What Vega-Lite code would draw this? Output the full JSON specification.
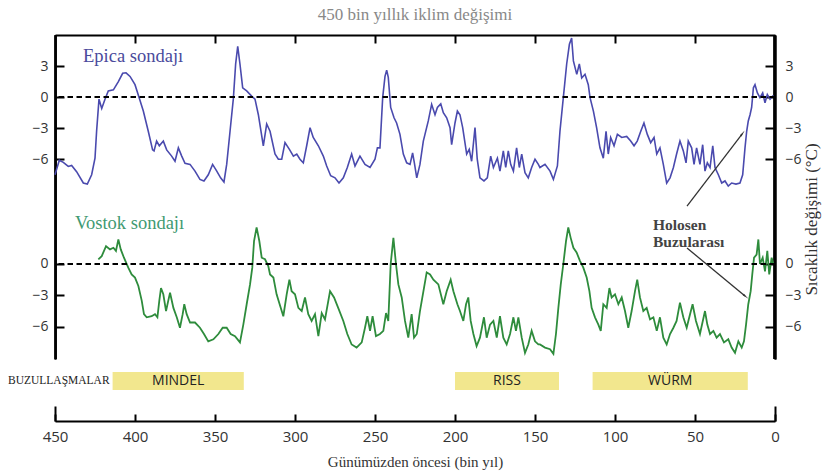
{
"$schema": "https://vega.github.io/schema/vega-lite/v6.json",
"padding": {"left": 8, "top": 5, "right": 5, "bottom": 5},
"width": 720, "height": 386,
"title": {"text": "450 bin yıllık iklim değişimi", "font": "Liberation Serif", "fontSize": 17, "fontWeight": "normal", "color": "#888888", "anchor": "middle", "offset": 10},
"config": {"view": {"stroke": null}, "axis": {"grid": false, "domainColor": "#000", "tickColor": "#000", "domainWidth": 2, "tickWidth": 2, "labelColor": "#333", "labelFont": "Open Sans", "labelFontSize": 14, "labelFlush": false}},
"resolve": {"scale": {"x": "independent", "y": "independent"}, "axis": {"x": "independent", "y": "independent"}},
"datasets": {
"epica": [
{"age":450,"t":-7.5},{"age":447.3,"t":-6.1},{"age":444.8,"t":-6.3},{"age":441.7,"t":-6.7},{"age":439.6,"t":-6.6},{"age":436.5,"t":-7.2},{"age":432.3,"t":-8.3},{"age":429.8,"t":-8.4},{"age":427.1,"t":-7.5},{"age":425,"t":-5.9},{"age":424,"t":-3.3},{"age":422.5,"t":-0.2},{"age":420.8,"t":-1.1},{"age":418.75,"t":-0.2},{"age":416.7,"t":0.6},{"age":413.5,"t":0.7},{"age":410.4,"t":1.5},{"age":407.7,"t":2.3},{"age":405.6,"t":2.35},{"age":403.1,"t":2.0},{"age":400,"t":1.2},{"age":397.3,"t":-0.1},{"age":394.8,"t":-1.35},{"age":391.7,"t":-3.3},{"age":389,"t":-5.1},{"age":388.1,"t":-5.2},{"age":386.5,"t":-4.25},{"age":384.8,"t":-4.7},{"age":382.3,"t":-4.25},{"age":380.2,"t":-5.1},{"age":377.1,"t":-5.7},{"age":375,"t":-6.2},{"age":372.9,"t":-4.9},{"age":370.8,"t":-5.7},{"age":368.75,"t":-6.4},{"age":365.6,"t":-6.5},{"age":362.5,"t":-7.15},{"age":359.4,"t":-7.95},{"age":356.9,"t":-8.1},{"age":354.2,"t":-7.5},{"age":351.5,"t":-6.5},{"age":348.9,"t":-7.15},{"age":346.5,"t":-7.8},{"age":344.4,"t":-8.2},{"age":342.7,"t":-6.5},{"age":340.6,"t":-3.3},{"age":338.5,"t":-0.1},{"age":337.1,"t":3.2},{"age":335.8,"t":4.9},{"age":334.4,"t":3.2},{"age":332.7,"t":0.9},{"age":330.2,"t":0.6},{"age":327.1,"t":0.1},{"age":325,"t":-0.2},{"age":322.9,"t":-1.7},{"age":319.8,"t":-4.7},{"age":317.7,"t":-2.6},{"age":315.6,"t":-3.3},{"age":312.5,"t":-5.5},{"age":310.4,"t":-6.0},{"age":308.3,"t":-6.0},{"age":306.25,"t":-4.4},{"age":303.5,"t":-5.05},{"age":301,"t":-5.7},{"age":298.9,"t":-5.5},{"age":296.9,"t":-6.0},{"age":294.8,"t":-6.35},{"age":292.7,"t":-4.7},{"age":290.6,"t":-2.95},{"age":288.6,"t":-3.9},{"age":285.4,"t":-4.7},{"age":282.3,"t":-5.7},{"age":280.2,"t":-6.65},{"age":277.7,"t":-7.6},{"age":275,"t":-7.8},{"age":272.5,"t":-8.3},{"age":269.8,"t":-7.8},{"age":267.3,"t":-6.8},{"age":264.6,"t":-5.5},{"age":262.5,"t":-6.65},{"age":259.4,"t":-5.7},{"age":256.25,"t":-6.5},{"age":253.1,"t":-6.8},{"age":250,"t":-6.0},{"age":248.5,"t":-4.9},{"age":246.9,"t":-4.9},{"age":245.2,"t":-0.05},{"age":243.75,"t":2.0},{"age":242.7,"t":2.6},{"age":241.7,"t":1.9},{"age":240.2,"t":-1.0},{"age":238.1,"t":-2.0},{"age":236.5,"t":-2.5},{"age":234.4,"t":-3.6},{"age":232.3,"t":-5.5},{"age":230.2,"t":-6.35},{"age":228.1,"t":-6.5},{"age":226.5,"t":-5.4},{"age":225.4,"t":-6.35},{"age":223.9,"t":-7.8},{"age":221.9,"t":-6.5},{"age":219.8,"t":-4.25},{"age":216.7,"t":-2.3},{"age":214.6,"t":-0.7},{"age":212.5,"t":-1.7},{"age":211,"t":-1.0},{"age":208.9,"t":-0.65},{"age":207.3,"t":-1.5},{"age":205.2,"t":-2.0},{"age":203.1,"t":-2.95},{"age":202.1,"t":-4.6},{"age":200,"t":-2.5},{"age":198.5,"t":-1.35},{"age":196.9,"t":-1.7},{"age":195.2,"t":-2.95},{"age":192.7,"t":-5.5},{"age":191.1,"t":-5.05},{"age":189.6,"t":-6.2},{"age":187.5,"t":-2.95},{"age":186.1,"t":-6.0},{"age":184.4,"t":-7.8},{"age":181.9,"t":-8.1},{"age":179.8,"t":-7.8},{"age":177.7,"t":-5.7},{"age":176,"t":-6.8},{"age":173.5,"t":-5.9},{"age":171.9,"t":-7.15},{"age":169.8,"t":-5.2},{"age":168.3,"t":-6.8},{"age":166.7,"t":-5.2},{"age":165.2,"t":-6.5},{"age":163.5,"t":-7.15},{"age":161.5,"t":-4.9},{"age":159.8,"t":-6.8},{"age":158.3,"t":-5.5},{"age":156.25,"t":-7.3},{"age":154.2,"t":-7.8},{"age":152.1,"t":-6.8},{"age":150,"t":-6.0},{"age":147.9,"t":-6.5},{"age":146.9,"t":-6.8},{"age":143.75,"t":-6.5},{"age":140.6,"t":-7.15},{"age":138.5,"t":-7.95},{"age":136,"t":-6.65},{"age":134.4,"t":-3.3},{"age":132.3,"t":-0.05},{"age":130.2,"t":3.2},{"age":128.5,"t":5.1},{"age":127.1,"t":5.7},{"age":126,"t":3.5},{"age":123.9,"t":2.2},{"age":122.3,"t":3.2},{"age":120.8,"t":1.85},{"age":118.75,"t":2.2},{"age":116.7,"t":1.2},{"age":115.6,"t":-0.05},{"age":113.5,"t":-1.35},{"age":111.5,"t":-2.95},{"age":109.4,"t":-4.9},{"age":107.3,"t":-5.9},{"age":105.6,"t":-3.3},{"age":104.2,"t":-5.5},{"age":102.7,"t":-3.9},{"age":100.6,"t":-4.7},{"age":98.5,"t":-3.6},{"age":95.8,"t":-3.9},{"age":92.7,"t":-3.8},{"age":90.2,"t":-4.25},{"age":88.1,"t":-4.7},{"age":86.1,"t":-4.25},{"age":83.9,"t":-3.3},{"age":81.9,"t":-2.5},{"age":79.8,"t":-3.6},{"age":77.7,"t":-4.4},{"age":75.6,"t":-3.9},{"age":73.9,"t":-5.5},{"age":71.9,"t":-4.9},{"age":69.8,"t":-6.5},{"age":67.7,"t":-8.3},{"age":65.6,"t":-7.8},{"age":63.5,"t":-6.8},{"age":61.5,"t":-5.5},{"age":59.4,"t":-4.25},{"age":57.3,"t":-5.2},{"age":55.6,"t":-6.35},{"age":54.2,"t":-4.25},{"age":52.1,"t":-4.9},{"age":50.6,"t":-6.5},{"age":49,"t":-4.9},{"age":46.9,"t":-6.5},{"age":45.2,"t":-4.6},{"age":43.75,"t":-7.15},{"age":42.3,"t":-6.35},{"age":40.6,"t":-6.8},{"age":38.9,"t":-4.7},{"age":37.5,"t":-6.8},{"age":35.4,"t":-7.5},{"age":33.3,"t":-8.3},{"age":31.25,"t":-8.1},{"age":29.2,"t":-8.6},{"age":27.1,"t":-8.3},{"age":24.4,"t":-8.4},{"age":21.9,"t":-8.3},{"age":20.2,"t":-7.5},{"age":18.75,"t":-4.9},{"age":17.7,"t":-3.3},{"age":16.7,"t":-2.3},{"age":15.6,"t":-1.7},{"age":14.6,"t":-1.0},{"age":13.5,"t":0.9},{"age":12.5,"t":1.2},{"age":11,"t":0.4},{"age":9.4,"t":-0.05},{"age":7.7,"t":0.4},{"age":6.25,"t":-0.55},{"age":4.8,"t":0.25},{"age":3.1,"t":-0.2},{"age":1.4,"t":0.1},{"age":0.2,"t":0.0}
],
"vostok": [
{"age":422.9,"t":0.45},{"age":420.8,"t":0.75},{"age":418.1,"t":1.7},{"age":415.6,"t":1.4},{"age":413.5,"t":1.55},{"age":411.9,"t":1.25},{"age":410.4,"t":2.35},{"age":408.9,"t":1.4},{"age":406.9,"t":0.6},{"age":404.2,"t":-0.35},{"age":402.1,"t":-1.0},{"age":400,"t":-1.3},{"age":397.9,"t":-2.1},{"age":395.8,"t":-3.5},{"age":394.4,"t":-4.8},{"age":392.7,"t":-5.1},{"age":389.6,"t":-5.0},{"age":387.5,"t":-4.8},{"age":386,"t":-5.1},{"age":384.8,"t":-3.5},{"age":383.75,"t":-2.3},{"age":382.3,"t":-2.9},{"age":380.6,"t":-4.5},{"age":379.2,"t":-3.5},{"age":378.1,"t":-2.75},{"age":376,"t":-4.2},{"age":373.9,"t":-5.1},{"age":371.9,"t":-6.1},{"age":370.2,"t":-4.8},{"age":369.2,"t":-3.85},{"age":367.7,"t":-4.8},{"age":365.6,"t":-5.6},{"age":362.5,"t":-5.6},{"age":359.4,"t":-6.1},{"age":356.9,"t":-6.7},{"age":354.2,"t":-7.4},{"age":351,"t":-7.2},{"age":347.9,"t":-6.7},{"age":345.2,"t":-6.1},{"age":342.7,"t":-6.1},{"age":340.2,"t":-6.7},{"age":337.5,"t":-6.9},{"age":334.4,"t":-7.5},{"age":332.3,"t":-5.8},{"age":330.2,"t":-3.85},{"age":328.1,"t":-1.95},{"age":326.7,"t":-0.35},{"age":325.6,"t":2.2},{"age":324,"t":3.5},{"age":322.3,"t":2.2},{"age":320.8,"t":0.6},{"age":318.75,"t":0.45},{"age":316.7,"t":-0.2},{"age":315.6,"t":-1.0},{"age":313.5,"t":-1.3},{"age":311.5,"t":-2.9},{"age":307.3,"t":-5.0},{"age":305.2,"t":-2.9},{"age":303.5,"t":-1.5},{"age":302.1,"t":-2.6},{"age":300,"t":-2.9},{"age":297.9,"t":-4.2},{"age":295.8,"t":-4.5},{"age":293.75,"t":-3.2},{"age":291.7,"t":-4.8},{"age":289.6,"t":-5.45},{"age":287.5,"t":-4.8},{"age":285.4,"t":-6.9},{"age":283.3,"t":-4.7},{"age":281.25,"t":-5.3},{"age":278.1,"t":-2.6},{"age":275.6,"t":-3.2},{"age":273,"t":-4.2},{"age":269.8,"t":-5.45},{"age":267.3,"t":-6.7},{"age":264.6,"t":-7.7},{"age":261.5,"t":-8.0},{"age":258.3,"t":-7.5},{"age":256.25,"t":-6.1},{"age":254.8,"t":-5.0},{"age":253.1,"t":-6.4},{"age":251.5,"t":-5.0},{"age":249.4,"t":-6.9},{"age":246.9,"t":-6.7},{"age":244.8,"t":-6.4},{"age":243.1,"t":-4.7},{"age":241.7,"t":-5.45},{"age":240.2,"t":0.0},{"age":238.5,"t":2.5},{"age":236.9,"t":0.0},{"age":235.4,"t":-1.95},{"age":233.3,"t":-3.2},{"age":231.25,"t":-5.45},{"age":229.2,"t":-7.05},{"age":227.1,"t":-4.8},{"age":225.6,"t":-7.05},{"age":223.9,"t":-6.7},{"age":221.9,"t":-4.5},{"age":219.4,"t":-2.3},{"age":217.7,"t":-0.8},{"age":215.6,"t":-1.0},{"age":213.5,"t":-1.5},{"age":210.4,"t":-1.95},{"age":207.3,"t":-3.85},{"age":205.2,"t":-2.6},{"age":202.7,"t":-1.5},{"age":201,"t":-2.6},{"age":198.5,"t":-3.85},{"age":196.9,"t":-4.5},{"age":194.8,"t":-5.45},{"age":193.1,"t":-3.85},{"age":191.7,"t":-3.2},{"age":190.2,"t":-5.45},{"age":188.5,"t":-6.7},{"age":186.5,"t":-7.85},{"age":184.4,"t":-7.05},{"age":181.9,"t":-5.1},{"age":180.2,"t":-7.05},{"age":178.1,"t":-5.8},{"age":176,"t":-5.45},{"age":173.9,"t":-7.05},{"age":171.9,"t":-5.0},{"age":169.8,"t":-7.05},{"age":167.7,"t":-7.7},{"age":165.6,"t":-6.7},{"age":163.5,"t":-5.1},{"age":161.9,"t":-6.4},{"age":160.4,"t":-5.1},{"age":158.3,"t":-7.05},{"age":156.25,"t":-8.5},{"age":154.2,"t":-7.7},{"age":152.1,"t":-6.4},{"age":150,"t":-7.4},{"age":147.9,"t":-7.7},{"age":146.9,"t":-7.7},{"age":143.75,"t":-8.0},{"age":140.6,"t":-8.15},{"age":138.5,"t":-8.6},{"age":136.9,"t":-6.7},{"age":135.4,"t":-4.2},{"age":133.9,"t":-1.95},{"age":132.3,"t":0.0},{"age":130.6,"t":2.2},{"age":129.2,"t":3.5},{"age":127.7,"t":2.5},{"age":126,"t":1.55},{"age":124,"t":1.1},{"age":121.9,"t":0.3},{"age":119.8,"t":-0.35},{"age":117.7,"t":-1.3},{"age":116,"t":-2.6},{"age":114.6,"t":-4.2},{"age":112.5,"t":-5.1},{"age":110.4,"t":-5.8},{"age":108.9,"t":-6.4},{"age":107.3,"t":-3.85},{"age":105.2,"t":-4.2},{"age":103.5,"t":-2.3},{"age":102.1,"t":-3.2},{"age":100,"t":-2.9},{"age":97.9,"t":-3.85},{"age":95.8,"t":-3.2},{"age":93.75,"t":-4.5},{"age":91.7,"t":-6.1},{"age":89.6,"t":-4.5},{"age":87.5,"t":-2.6},{"age":86.1,"t":-1.5},{"age":84.4,"t":-3.2},{"age":82.3,"t":-4.5},{"age":80.2,"t":-4.2},{"age":78.1,"t":-5.3},{"age":76,"t":-5.1},{"age":73.9,"t":-6.4},{"age":71.9,"t":-5.1},{"age":69.8,"t":-7.05},{"age":67.7,"t":-7.7},{"age":65.6,"t":-6.7},{"age":63.5,"t":-6.1},{"age":61.5,"t":-5.45},{"age":59.4,"t":-3.7},{"age":57.3,"t":-5.1},{"age":55.2,"t":-6.1},{"age":53.1,"t":-4.8},{"age":51.5,"t":-3.85},{"age":49.4,"t":-5.45},{"age":46.9,"t":-6.7},{"age":43.75,"t":-4.5},{"age":42.3,"t":-5.8},{"age":40.6,"t":-6.7},{"age":38.5,"t":-6.4},{"age":36.5,"t":-7.05},{"age":34.4,"t":-6.7},{"age":31.9,"t":-7.5},{"age":29.2,"t":-7.2},{"age":27.1,"t":-8.0},{"age":25,"t":-8.5},{"age":22.9,"t":-7.4},{"age":20.8,"t":-8.0},{"age":19.4,"t":-7.4},{"age":18.1,"t":-5.8},{"age":16.7,"t":-3.85},{"age":15.2,"t":-2.6},{"age":14.2,"t":-1.0},{"age":13.1,"t":0.6},{"age":11.5,"t":0.9},{"age":10.4,"t":2.35},{"age":9.4,"t":0.0},{"age":7.7,"t":0.6},{"age":6.25,"t":-0.7},{"age":4.8,"t":1.25},{"age":3.6,"t":-1.0},{"age":2.1,"t":0.6},{"age":1.0,"t":0.0}
],
"glac": [
{"name":"MINDEL","start":414,"end":332},
{"name":"RISS","start":200,"end":135},
{"name":"WÜRM","start":114,"end":17}
],
"frame": [
{"side":"left","edge":449.6},
{"side":"right","edge":0.4}
]
},
"layer": [
{"data": {"name": "glac"}, "mark": {"type": "rect", "color": "#f2e78e"},
 "encoding": {
  "x": {"field": "start", "type": "quantitative", "scale": {"domain": [0, 450], "reverse": true, "nice": false, "zero": false}, "axis": {"orient": "bottom", "values": [450,400,350,300,250,200,150,100,50,0], "tickSize": -7, "labelPadding": 15, "labelFontSize": 15, "title": "Günümüzden öncesi (bin yıl)", "titleFont": "Liberation Serif", "titleFontSize": 15, "titleFontWeight": "normal", "titleColor": "#333", "titlePadding": 10}},
  "x2": {"field": "end"},
  "y": {"datum": -10.33, "type": "quantitative", "scale": {"domain": [-9.09, 21.91], "range": [324, 0], "nice": false, "zero": false}, "axis": null},
  "y2": {"datum": -12.06}}},
{"data": {"name": "glac"}, "transform": [{"calculate": "(datum.start + datum.end) / 2", "as": "mid"}], "mark": {"type": "text", "baseline": "middle", "align": "center", "font": "Open Sans", "fontSize": 14, "color": "#222"},
 "encoding": {
  "x": {"field": "mid", "type": "quantitative", "scale": {"domain": [0, 450], "reverse": true, "nice": false, "zero": false}, "axis": null},
  "y": {"datum": -11.2, "type": "quantitative", "scale": {"domain": [-9.09, 21.91], "range": [324, 0], "nice": false, "zero": false}, "axis": null},
  "text": {"field": "name"}}},
{"data": {"values": [{"label": "BUZULLAŞMALAR"}]}, "mark": {"type": "text", "align": "left", "baseline": "middle", "dx": -47, "font": "Liberation Serif", "fontSize": 11.5, "color": "#222"},
 "encoding": {
  "x": {"datum": 450, "type": "quantitative", "scale": {"domain": [0, 450], "reverse": true, "nice": false, "zero": false}, "axis": {"orient": "bottom", "values": [450, 0], "tickSize": -15, "labels": false, "domain": false, "title": null}},
  "y": {"datum": -11.2, "type": "quantitative", "scale": {"domain": [-9.09, 21.91], "range": [324, 0], "nice": false, "zero": false}, "axis": null},
  "text": {"field": "label"}}},
{"data": {"name": "frame"}, "mark": {"type": "rule", "color": "#000", "strokeWidth": 2.5},
 "encoding": {
  "x": {"field": "edge", "type": "quantitative", "scale": {"domain": [0, 450], "reverse": true, "nice": false, "zero": false}, "axis": null},
  "x2": {"field": "edge"},
  "y": {"datum": 6, "type": "quantitative", "scale": {"domain": [-25.3, 6], "range": [324, 0], "nice": false, "zero": false}, "axis": null},
  "y2": {"datum": -25.3}}},
{"data": {"name": "epica"}, "mark": {"type": "line", "color": "#4a4aae", "strokeWidth": 1.6},
 "encoding": {
  "x": {"field": "age", "type": "quantitative", "scale": {"domain": [0, 450], "reverse": true, "nice": false, "zero": false}, "axis": {"orient": "top", "values": [400,350,300,250,200,150,100,50], "labels": false, "tickSize": -8, "title": null}},
  "y": {"field": "t", "type": "quantitative", "scale": {"domain": [-25.3, 6], "range": [324, 0], "nice": false, "zero": false}, "axis": {"orient": "left", "values": [3,0,-3,-6], "tickSize": -9, "labelPadding": 16, "title": null}}}},
{"data": {"values": [{"t": 0}]}, "mark": {"type": "rule", "color": "#000", "strokeWidth": 2, "strokeDash": [5.5, 3.5]},
 "encoding": {
  "y": {"field": "t", "type": "quantitative", "scale": {"domain": [-25.3, 6], "range": [324, 0], "nice": false, "zero": false}, "axis": {"orient": "right", "values": [3,0,-3,-6], "tickSize": -10, "labelPadding": 20, "title": null}}}},
{"data": {"name": "vostok"}, "mark": {"type": "line", "color": "#2e8c3c", "strokeWidth": 1.8},
 "encoding": {
  "x": {"field": "age", "type": "quantitative", "scale": {"domain": [0, 450], "reverse": true, "nice": false, "zero": false}, "axis": null},
  "y": {"field": "t", "type": "quantitative", "scale": {"domain": [-9.09, 21.91], "range": [324, 0], "nice": false, "zero": false}, "axis": {"orient": "left", "values": [0,-3,-6], "tickSize": -9, "labelPadding": 16, "title": null}}}},
{"data": {"values": [{"t": 0}]}, "mark": {"type": "rule", "color": "#000", "strokeWidth": 2, "strokeDash": [5.5, 3.5]},
 "encoding": {
  "y": {"field": "t", "type": "quantitative", "scale": {"domain": [-9.09, 21.91], "range": [324, 0], "nice": false, "zero": false}, "axis": {"orient": "right", "values": [0,-3,-6], "tickSize": -10, "labelPadding": 20, "title": "Sıcaklık değişimi (°C)", "titleAngle": 270, "titleBaseline": "top", "titleFont": "Liberation Serif", "titleFontSize": 17, "titleFontWeight": "normal", "titleColor": "#333", "titleY": 184, "titlePadding": 2}}}},
{"data": {"values": [{"label": "Epica sondajı", "age": 432.5, "t": 3.96}]}, "mark": {"type": "text", "align": "left", "baseline": "middle", "font": "Liberation Serif", "fontSize": 18.5, "color": "#4a4a9c"},
 "encoding": {
  "x": {"field": "age", "type": "quantitative", "scale": {"domain": [0, 450], "reverse": true, "nice": false, "zero": false}, "axis": null},
  "y": {"field": "t", "type": "quantitative", "scale": {"domain": [-25.3, 6], "range": [324, 0], "nice": false, "zero": false}, "axis": null},
  "text": {"field": "label"}}},
{"data": {"values": [{"a1": 55, "t1": -10.53, "a2": 20.6, "t2": -3.57}]}, "mark": {"type": "rule", "color": "#333", "strokeWidth": 1.3},
 "encoding": {
  "x": {"field": "a1", "type": "quantitative", "scale": {"domain": [0, 450], "reverse": true, "nice": false, "zero": false}, "axis": null},
  "x2": {"field": "a2"},
  "y": {"field": "t1", "type": "quantitative", "scale": {"domain": [-25.3, 6], "range": [324, 0], "nice": false, "zero": false}, "axis": null},
  "y2": {"field": "t2"}}},
{"data": {"values": [{"a2": 20.6, "t2": -3.57}]}, "mark": {"type": "point", "shape": "wedge", "filled": true, "color": "#333", "size": 60, "angle": 37, "opacity": 1},
 "encoding": {
  "x": {"field": "a2", "type": "quantitative", "scale": {"domain": [0, 450], "reverse": true, "nice": false, "zero": false}, "axis": null},
  "y": {"field": "t2", "type": "quantitative", "scale": {"domain": [-25.3, 6], "range": [324, 0], "nice": false, "zero": false}, "axis": null}}},
{"data": {"values": [{"label": "Vostok sondajı", "age": 437.5, "t": 3.92}]}, "mark": {"type": "text", "align": "left", "baseline": "middle", "font": "Liberation Serif", "fontSize": 18.5, "color": "#3f9a72"},
 "encoding": {
  "x": {"field": "age", "type": "quantitative", "scale": {"domain": [0, 450], "reverse": true, "nice": false, "zero": false}, "axis": null},
  "y": {"field": "t", "type": "quantitative", "scale": {"domain": [-9.09, 21.91], "range": [324, 0], "nice": false, "zero": false}, "axis": null},
  "text": {"field": "label"}}},
{"data": {"values": [{"label": ["Holosen", "Buzularası"], "age": 76.3, "t": 3.73}]}, "mark": {"type": "text", "align": "left", "baseline": "middle", "font": "Liberation Serif", "fontSize": 15.5, "fontWeight": "bold", "lineHeight": 17, "color": "#444"},
 "encoding": {
  "x": {"field": "age", "type": "quantitative", "scale": {"domain": [0, 450], "reverse": true, "nice": false, "zero": false}, "axis": null},
  "y": {"field": "t", "type": "quantitative", "scale": {"domain": [-9.09, 21.91], "range": [324, 0], "nice": false, "zero": false}, "axis": null},
  "text": {"field": "label"}}},
{"data": {"values": [{"a1": 55, "t1": 1.53, "a2": 18.75, "t2": -3.06}]}, "mark": {"type": "rule", "color": "#333", "strokeWidth": 1.3},
 "encoding": {
  "x": {"field": "a1", "type": "quantitative", "scale": {"domain": [0, 450], "reverse": true, "nice": false, "zero": false}, "axis": null},
  "x2": {"field": "a2"},
  "y": {"field": "t1", "type": "quantitative", "scale": {"domain": [-9.09, 21.91], "range": [324, 0], "nice": false, "zero": false}, "axis": null},
  "y2": {"field": "t2"}}},
{"data": {"values": [{"a2": 18.75, "t2": -3.06}]}, "mark": {"type": "point", "shape": "wedge", "filled": true, "color": "#333", "size": 60, "angle": 130, "opacity": 1},
 "encoding": {
  "x": {"field": "a2", "type": "quantitative", "scale": {"domain": [0, 450], "reverse": true, "nice": false, "zero": false}, "axis": null},
  "y": {"field": "t2", "type": "quantitative", "scale": {"domain": [-9.09, 21.91], "range": [324, 0], "nice": false, "zero": false}, "axis": null}}}
]
}
